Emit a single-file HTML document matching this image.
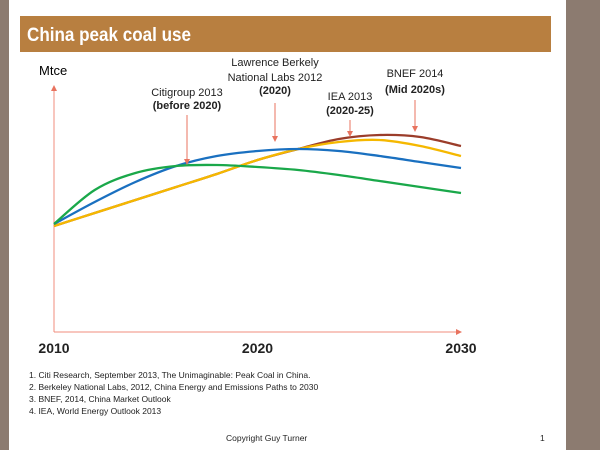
<!DOCTYPE html>
<html><head><meta charset="utf-8"><style>
body{margin:0;width:600px;height:450px;overflow:hidden;background:#fff;font-family:"Liberation Sans",sans-serif}
</style></head><body>
<svg width="600" height="450" xmlns="http://www.w3.org/2000/svg" style="display:block">
<rect x="0" y="0" width="9" height="450" fill="#8c7b70"/>
<rect x="566" y="0" width="34" height="450" fill="#8c7b70"/>
<rect x="20" y="16" width="531" height="36" fill="#b87f40"/>
<text x="27" y="41" fill="#fff" font-size="19" font-weight="bold" textLength="164" lengthAdjust="spacingAndGlyphs">China peak coal use</text>
<defs><marker id="ah" markerWidth="6" markerHeight="6" refX="3" refY="3" orient="auto"><path d="M0,0 L6,3 L0,6 z" fill="#e8735f"/></marker></defs>
<g id="axes" fill="none" stroke="#f08c7c" stroke-width="1">
<line x1="54" y1="332" x2="54" y2="88" marker-end="url(#ah)"/>
<line x1="54" y1="332" x2="459" y2="332" marker-end="url(#ah)"/>
</g>
<text x="39" y="75" font-size="13">Mtce</text>
<g id="xt" font-size="14" font-weight="bold" fill="#222"></g>
<g id="series" fill="none" stroke-width="2.3"></g>
<g font-size="11" text-anchor="middle" fill="#222">
<text x="187" y="96">Citigroup 2013</text>
<text x="187" y="109" font-weight="bold">(before 2020)</text>
<text x="275" y="66">Lawrence Berkely</text>
<text x="275" y="81">National Labs 2012</text>
<text x="275" y="94" font-weight="bold">(2020)</text>
<text x="350" y="100">IEA 2013</text>
<text x="350" y="114" font-weight="bold">(2020-25)</text>
<text x="415" y="77">BNEF 2014</text>
<text x="415" y="93" font-weight="bold">(Mid 2020s)</text>
</g>
<g stroke="#e8735f" stroke-width="1">
<line x1="187" y1="115" x2="187" y2="162" marker-end="url(#ah)"/>
<line x1="275" y1="103" x2="275" y2="139" marker-end="url(#ah)"/>
<line x1="350" y1="120" x2="350" y2="134" marker-end="url(#ah)"/>
<line x1="415" y1="100" x2="415" y2="129" marker-end="url(#ah)"/>
</g>
<g font-size="8.5" fill="#222">
<text x="29" y="378">1. Citi Research, September 2013, The Unimaginable: Peak Coal in China.</text>
<text x="29" y="390">2. Berkeley National Labs, 2012,  China Energy and Emissions Paths to 2030</text>
<text x="29" y="402">3. BNEF, 2014,  China Market Outlook</text>
<text x="29" y="414">4. IEA, World Energy Outlook 2013</text>
<text x="226" y="441">Copyright Guy Turner</text>
<text x="540" y="441">1</text>
</g>
</svg>
<script>
const years=[2010,2012,2014,2016,2018,2020,2022,2024,2026,2028,2030];
const xTicks=[2010,2020,2030];
const citi=[2700,3550,3975,4150,4175,4125,4050,3925,3775,3625,3475];
const lbnl=[2700,3250,3750,4150,4400,4525,4575,4525,4400,4250,4100];
const iea=[2650,2975,3300,3625,3950,4300,4575,4750,4800,4650,4400];
const bnef=[2650,2975,3300,3625,3950,4300,4575,4825,4925,4875,4650];
const NS="http://www.w3.org/2000/svg";
function xs(y){return 54+(y-2010)*(407/20);}
function ys(v){return 332-v/25;}
function path(vals){
 const p=years.map((y,i)=>[xs(y),ys(vals[i])]);
 let d="M"+p[0][0]+","+p[0][1];
 for(let i=0;i<p.length-1;i++){
  const p0=p[Math.max(0,i-1)],p1=p[i],p2=p[i+1],p3=p[Math.min(p.length-1,i+2)];
  d+=" C"+(p1[0]+(p2[0]-p0[0])/6)+","+(p1[1]+(p2[1]-p0[1])/6)+" "+(p2[0]-(p3[0]-p1[0])/6)+","+(p2[1]-(p3[1]-p1[1])/6)+" "+p2[0]+","+p2[1];
 }
 return d;
}
const g=document.getElementById('series');
[[bnef,'#9b3d2a','bnef-line'],[iea,'#f5b800','iea-line'],[lbnl,'#1a70c0','lbnl-line'],[citi,'#1aa84a','citigroup-line']].forEach(s=>{
 const el=document.createElementNS(NS,'path');
 el.setAttribute('d',path(s[0]));el.setAttribute('stroke',s[1]);
 
 
 g.appendChild(el);
});
const xt=document.getElementById('xt');
xTicks.forEach(t=>{
 const el=document.createElementNS(NS,'text');
 el.setAttribute('x',xs(t));el.setAttribute('y',353);el.setAttribute('text-anchor','middle');
 el.textContent=t;
 
 
 xt.appendChild(el);
});
</script>
</body></html>
